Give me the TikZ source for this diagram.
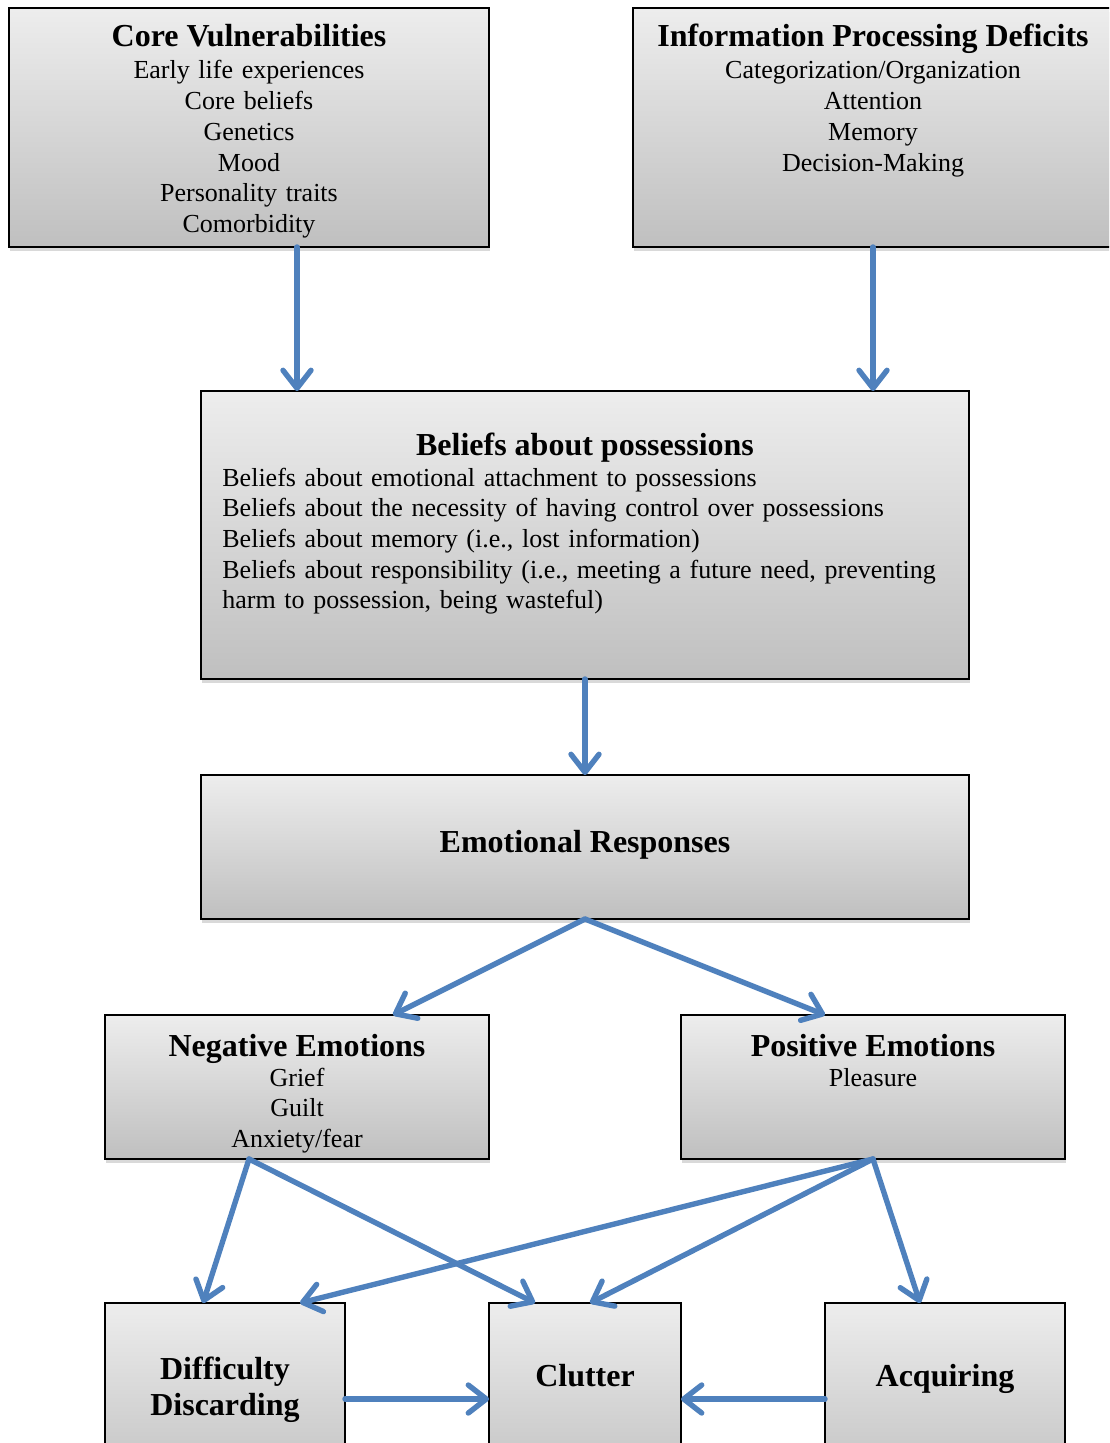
\documentclass[tikz,border=0pt]{standalone}
\usepackage{fontspec}
\setmainfont{Liberation Serif}
\usetikzlibrary{arrows.meta,shadows,calc}
\definecolor{arrowblue}{RGB}{79,129,189}
\begin{document}
\begin{tikzpicture}[x=0.5pt,y=-0.5pt,
  box/.style={draw=black, line width=0.8pt, inner sep=0pt, outer sep=0pt,
    top color=gray!14, bottom color=gray!50,
    drop shadow={shadow xshift=0.4pt, shadow yshift=-1.8pt, opacity=0.3}},
  ttl/.style={anchor=base, inner sep=0pt, font=\fontsize{16}{18}\selectfont\bfseries},
  bodyc/.style={anchor=base, inner sep=0pt, text width=235pt, align=center, font=\fontsize{13}{15.35}\selectfont},
  bodyl/.style={anchor=base west, inner sep=0pt, text width=370pt, align=left, font=\fontsize{13}{15.35}\selectfont},
  bigttl/.style={anchor=base, inner sep=0pt, text width=115pt, align=center, font=\fontsize{16}{18}\selectfont\bfseries},
  arr/.style={draw=arrowblue, line width=2.7pt, line cap=round, line join=round,
    -{Straight Barb[length=9pt, width=14pt, line cap=round, line join=round]}}
]
\useasboundingbox (0,0) rectangle (1109,1443);
\clip (0,0) rectangle (1109,1443);

% boxes
\node[box, minimum width=240pt, minimum height=119.5pt] (cv)  at (249,127.5) {};
\node[box, minimum width=240pt, minimum height=119.5pt] (ipd) at (873,127.5) {};
\node[box, minimum width=384pt, minimum height=144pt]   (bel) at (585,535) {};
\node[box, minimum width=384pt, minimum height=72pt]    (emo) at (585,847) {};
\node[box, minimum width=192pt, minimum height=72pt]    (neg) at (297,1087) {};
\node[box, minimum width=192pt, minimum height=72pt]    (pos) at (873,1087) {};
\node[box, minimum width=120pt, minimum height=96pt]    (dd)  at (225,1399) {};
\node[box, minimum width=96pt,  minimum height=96pt]    (clu) at (585,1399) {};
\node[box, minimum width=120pt, minimum height=96pt]    (acq) at (945,1399) {};

% texts
\node[ttl] (cvT) at (249,47) {Core Vulnerabilities};
\node[bodyc] (cvB) at (249,79) {Early life experiences\\Core beliefs\\Genetics\\Mood\\Personality traits\\Comorbidity};
\node[ttl] (ipdT) at (873,47) {Information Processing Deficits};
\node[bodyc] (ipdB) at (873,79) {Categorization/Organization\\Attention\\Memory\\Decision-Making};
\node[ttl] (belT) at (585,455) {Beliefs about possessions};
\node[bodyl] (belB) at (222,486) {Beliefs about emotional attachment to possessions\\
Beliefs about the necessity of having control over possessions\\
Beliefs about memory (i.e., lost information)\\
Beliefs about responsibility (i.e., meeting a future need, preventing\\
harm to possession, being wasteful)};
\node[ttl] (emoT) at (585,852) {Emotional Responses};
\node[ttl] (negT) at (297,1056) {Negative Emotions};
\node[bodyc] (negB) at (297,1086) {Grief\\Guilt\\Anxiety/fear};
\node[ttl] (posT) at (873,1056) {Positive Emotions};
\node[bodyc] (posB) at (873,1086) {Pleasure};
\node[bigttl] (ddT) at (225,1379) {Difficulty\\Discarding};
\node[ttl] (cluT) at (585,1386) {Clutter};
\node[ttl] (acqT) at (945,1386) {Acquiring};

% connectors
\draw[arr] ([xshift=24pt]cv.south) -- ([xshift=24pt]cv.south |- bel.north);
\draw[arr] (ipd.south) -- (ipd.south |- bel.north);
\draw[arr] (bel.south) -- (emo.north);
\draw[arr] (emo.south) -- ([xshift=48pt]neg.north);
\draw[arr] (emo.south) -- ([xshift=-24pt]pos.north);
\draw[arr] ([xshift=-24pt]neg.south) -- ([xshift=-11pt]dd.north);
\draw[arr] ([xshift=-24pt]neg.south) -- ([xshift=-25pt]clu.north);
\draw[arr] (pos.south) -- ([xshift=37.5pt]dd.north);
\draw[arr] (pos.south) -- ([xshift=2.5pt]clu.north);
\draw[arr] (pos.south) -- ([xshift=-12.5pt]acq.north);
\draw[arr] (dd.east) -- (clu.west);
\draw[arr] (acq.west) -- (clu.east);
\end{tikzpicture}
\end{document}
